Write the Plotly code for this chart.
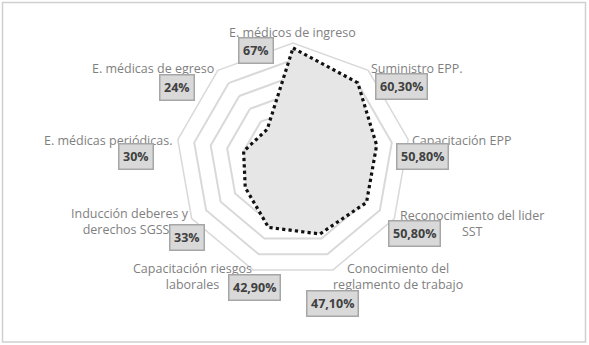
import plotly.graph_objects as go

categories = ["E. médicos de ingreso", "Suministro EPP.", "Capacitación EPP",
              "Reconocimiento del lider SST", "Conocimiento del reglamento de trabajo",
              "Capacitación riesgos laborales", "Inducción deberes y derechos SGSST",
              "E. médicas periódicas.", "E. médicas de egreso"]
values = [67, 60.3, 50.8, 50.8, 47.1, 42.9, 33, 30, 24]
value_labels = ["67%", "60,30%", "50,80%", "50,80%", "47,10%", "42,90%", "33%", "30%", "24%"]
axis_labels = ["E. médicos de ingreso", "Suministro EPP.", "Capacitación EPP",
               "Reconocimiento del lider<br>SST",
               "Conocimiento del<br>reglamento de trabajo",
               "Capacitación riesgos<br>laborales", "Inducción deberes y<br>derechos SGSST",
               "E. médicas periódicas.", "E. médicas de egreso"]
radial_ticks = [10, 20, 30, 40, 50, 60]

W, H = 589, 345
# layout positions (pixel centres) for the category labels and the value boxes
label_pos = [(292, 32), (417, 68), (462, 140), (472, 223), (398, 276),
             (192, 276), (130, 222), (108, 140), (153, 69)]
box_pos = [(256, 50.5), (401, 86), (422, 156), (414, 233), (332, 303),
           (254, 287), (187, 237.5), (136, 156.5), (177, 87.5)]

cx, cy, R = 293, 160, 117
grid_col = "#d9d9d9"

fig = go.Figure()
fig.add_trace(go.Scatterpolar(
    r=values + values[:1], theta=categories + categories[:1],
    mode="lines", fill="toself", fillcolor="#e6e6e6",
    line=dict(color="#111111", width=3.2, dash="dot"),
    hoverinfo="skip", showlegend=False))

fig.update_layout(
    width=W, height=H, margin=dict(l=0, r=0, t=0, b=0),
    paper_bgcolor="white", plot_bgcolor="white",
    font=dict(family="Open Sans", color="#808080", size=12),
    polar=dict(
        domain=dict(x=[(cx - R) / W, (cx + R) / W], y=[(H - cy - R) / H, (H - cy + R) / H]),
        gridshape="linear", bgcolor="white",
        radialaxis=dict(range=[0, 70], tickvals=radial_ticks, showticklabels=False,
                        showline=False, ticks="", gridcolor=grid_col, gridwidth=1.5),
        angularaxis=dict(direction="clockwise", rotation=90, showticklabels=False,
                         ticks="", showgrid=False, showline=True,
                         linecolor=grid_col, linewidth=1.5),
    ),
)

annotations = []
for txt, (px, py) in zip(axis_labels, label_pos):
    annotations.append(dict(text=txt, x=px / W, y=1 - py / H, xref="paper", yref="paper",
                            xanchor="center", yanchor="middle", showarrow=False,
                            align="center",
                            font=dict(family="Open Sans", size=12.5, color="#7f7f7f")))
for txt, (px, py) in zip(value_labels, box_pos):
    annotations.append(dict(text="<b>" + txt + "</b>", x=px / W, y=1 - py / H,
                            xref="paper", yref="paper", xanchor="center", yanchor="middle",
                            showarrow=False, bgcolor="#d9d9d9", bordercolor="#a6a6a6",
                            borderwidth=1.5, borderpad=3.5,
                            font=dict(family="Open Sans", size=12.5, color="#404040")))
fig.update_layout(annotations=annotations)

fig.add_shape(type="rect", xref="paper", yref="paper",
              x0=2.5 / W, x1=585.5 / W, y0=1 - 342 / H, y1=1 - 2.5 / H,
              line=dict(color="#d0d0d0", width=1.5))

fig.write_html("out.html", config={"displayModeBar": False},
               post_script="document.body.style.margin='0';")
